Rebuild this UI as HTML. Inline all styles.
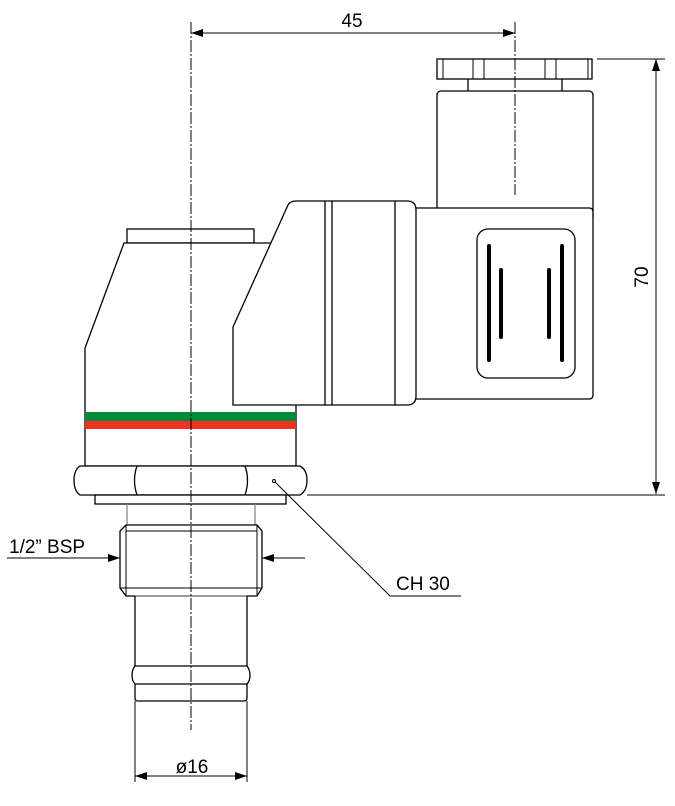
<!DOCTYPE html>
<html><head><style>html,body{margin:0;padding:0;background:#fff}svg{display:block}</style></head>
<body>
<svg width="675" height="806" viewBox="0 0 675 806" xmlns="http://www.w3.org/2000/svg" font-family="Liberation Sans, sans-serif">
<defs>
<marker id="a" markerWidth="12" markerHeight="8" refX="12" refY="4" orient="auto" markerUnits="userSpaceOnUse"><path d="M0,0 L12,4 L0,8 Z" fill="#000"/></marker>
</defs>
<g fill="#fff" stroke="#000" stroke-width="1.3">
<rect x="437" y="59" width="155" height="20"/>
<path d="M443,59V79M473,59V79M484,59V79M545,59V79M556,59V79M588,59V79" fill="none" stroke-width="1"/>
<path d="M468,79V91M562,79V91" fill="none"/>
<rect x="437" y="91" width="156" height="130" rx="4"/>
<path d="M415,208H589Q593,208 593,212V395Q593,399 589,399H415Z"/>
<rect x="477" y="229" width="98" height="149" rx="11"/>
<rect x="127" y="229" width="127" height="14"/>
<path d="M124,243H285L296,405V466H85V348Z"/>
<path d="M288,205Q290,201 296,201H407Q416,201 416,210V396Q416,405 407,405H233V327Z"/>
<path d="M325,201V405M332,201V405M395,201V405" fill="none"/>
<path d="M80,466H300Q307,470 307,480Q307,491 300,495H80Q74,491 74,480Q74,470 80,466Z"/>
<path d="M137,466Q132,480 137,495M245,466Q250,480 245,495" fill="none"/>
<rect x="95" y="495" width="191" height="9"/>
<path d="M127,504V525M255,504V525" fill="none" stroke="#888"/>
<path d="M126,525H257L262,531V588L257,596H126L120,588V531Z"/>
<path d="M126,531H257M126,525V596M257,525V596M120,588H262" fill="none" stroke-width="1"/>
<path d="M135,596H247" fill="none" stroke="#888"/>
<path d="M135,596V667M247,596V667" fill="none"/>
<path d="M135,666H247Q250,670 250,675Q250,681 247,684H135Q132,681 132,675Q132,670 135,666Z"/>
<path d="M135,684V698Q135,701 138,701H244Q247,701 247,698V684" fill="none"/>
</g>
<g stroke="#000" stroke-width="4" stroke-linecap="round">
<path d="M489,246V360M501,270V337M549,270V337M562,246V360"/>
</g>
<rect x="85" y="412" width="211" height="9" fill="#008a3a"/>
<rect x="85" y="421" width="211" height="8" fill="#f03020"/>
<path d="M191,22V730" stroke="#000" stroke-width="1" stroke-dasharray="12,2,2,2" fill="none"/>
<path d="M515,22V195" stroke="#000" stroke-width="1" stroke-dasharray="12,2,2,2" fill="none"/>
<g stroke="#000" stroke-width="1" fill="none">
<path d="M191,33H515" marker-end="url(#a)"/>
<path d="M515,33H191" marker-end="url(#a)"/>
<path d="M597,59H665M307,495H665"/>
<path d="M656,494V59" marker-end="url(#a)"/>
<path d="M656,59V494" marker-end="url(#a)"/>
<path d="M7,558H120" marker-end="url(#a)"/>
<path d="M305,558H262" marker-end="url(#a)"/>
<path d="M274,481L390,596H461"/>
<path d="M135,701V782M247,701V782"/>
<path d="M135,776H247" marker-end="url(#a)"/>
<path d="M247,776H135" marker-end="url(#a)"/>
</g>
<circle cx="274" cy="481" r="1.5" fill="#fff" stroke="#000" stroke-width="1"/>
<g font-size="19" fill="#000">
<text x="352" y="27" text-anchor="middle">45</text>
<text x="648" y="277" text-anchor="middle" transform="rotate(-90 648 277)">70</text>
<text x="9" y="553">1/2” BSP</text>
<text x="396" y="590">CH 30</text>
<text x="192" y="773" text-anchor="middle">ø16</text>
</g>
</svg>
</body></html>
